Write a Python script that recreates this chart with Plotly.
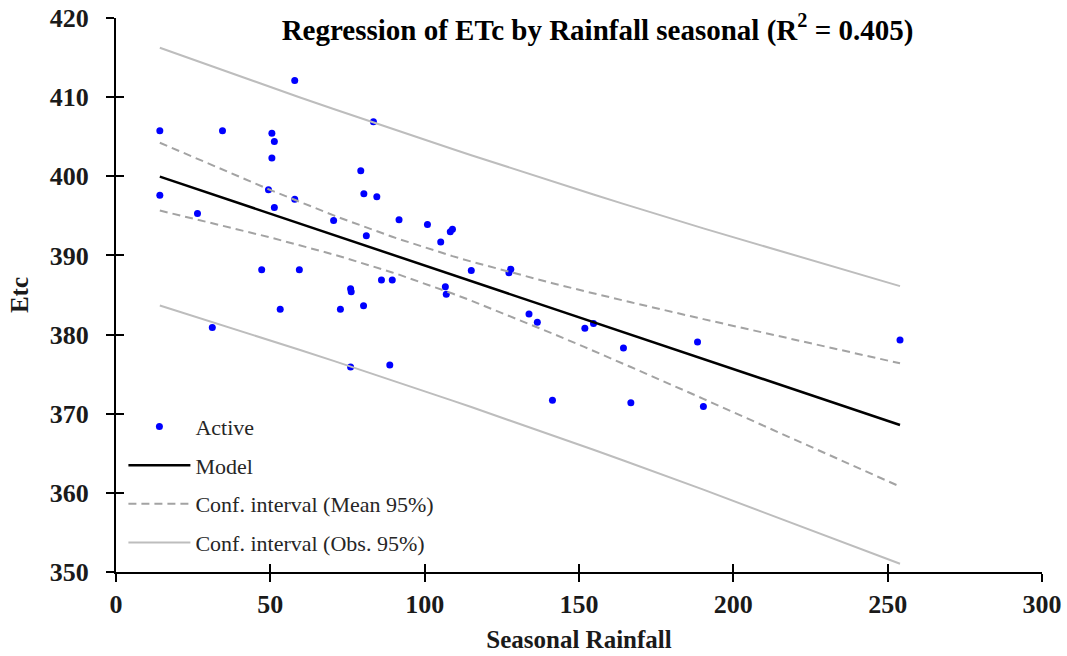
import numpy as np
import plotly.graph_objects as go

# Seasonal rainfall (x) and crop evapotranspiration ETc (y) per observation
rainfall = [14.2, 14.2, 26.4, 31.2, 34.5, 47.2, 49.4, 50.5, 51.3, 50.5,
            51.3, 53.2, 57.9, 57.9, 59.4, 70.5, 72.7, 76.0, 76.2, 76.0,
            79.3, 80.3, 80.2, 81.1, 83.4, 84.5, 86.0, 88.7, 89.5, 91.7,
            100.9, 105.2, 106.7, 107.0, 108.3, 109.0, 115.1, 127.3, 127.9, 133.8,
            136.5, 141.4, 151.9, 154.7, 164.4, 166.8, 188.4, 190.3, 254.0]
etc = [405.75, 397.6, 395.3, 380.9, 405.75, 388.2, 398.3, 405.45, 404.4, 402.3,
       396.05, 383.2, 412.1, 397.1, 388.2, 394.4, 383.2, 385.8, 385.4, 375.9,
       400.7, 397.8, 383.65, 392.5, 406.9, 397.4, 386.9, 376.15, 386.9, 394.5,
       393.9, 391.7, 386.05, 385.1, 393.0, 393.3, 388.1, 387.8, 388.25, 382.6,
       381.55, 371.7, 380.8, 381.4, 378.3, 371.4, 379.05, 370.9, 379.3]

x_ticks = [0, 50, 100, 150, 200, 250, 300]
y_ticks = [350, 360, 370, 380, 390, 400, 410, 420]

# Ordinary least squares fit with 95% intervals
x = np.array(rainfall)
y = np.array(etc)
n = len(x)
slope, intercept = np.polyfit(x, y, 1)
resid = y - (intercept + slope * x)
s = np.sqrt(np.sum(resid ** 2) / (n - 2))
sxx = np.sum((x - x.mean()) ** 2)
T975 = 2.012  # Student t quantile, 47 degrees of freedom

xs = np.unique(x)
fit = intercept + slope * xs
half_mean = T975 * s * np.sqrt(1 / n + (xs - x.mean()) ** 2 / sxx)
half_obs = T975 * s * np.sqrt(1 + 1 / n + (xs - x.mean()) ** 2 / sxx)

SERIF = "Liberation Serif"
MEAN_GREY = "#a3a3a3"
OBS_GREY = "#bdbdbd"
MEAN_DASH = "8px,5px"

fig = go.Figure()

fig.add_trace(go.Scatter(x=x, y=y, mode="markers", name="Active",
                         marker=dict(color="#0000ff", size=7),
                         legendgroup="a"))
fig.add_trace(go.Scatter(x=xs, y=fit, mode="lines", name="Model",
                         line=dict(color="black", width=2.5),
                         legendgroup="b"))
fig.add_trace(go.Scatter(x=xs, y=fit + half_mean, mode="lines",
                         name="Conf. interval (Mean 95%)",
                         line=dict(color=MEAN_GREY, width=2, dash=MEAN_DASH),
                         legendgroup="c"))
fig.add_trace(go.Scatter(x=xs, y=fit - half_mean, mode="lines",
                         line=dict(color=MEAN_GREY, width=2, dash=MEAN_DASH),
                         legendgroup="c", showlegend=False))
fig.add_trace(go.Scatter(x=xs, y=fit + half_obs, mode="lines",
                         name="Conf. interval (Obs. 95%)",
                         line=dict(color=OBS_GREY, width=2),
                         legendgroup="d"))
fig.add_trace(go.Scatter(x=xs, y=fit - half_obs, mode="lines",
                         line=dict(color=OBS_GREY, width=2),
                         legendgroup="d", showlegend=False))
# empty trace that carries the inward tick axes
fig.add_trace(go.Scatter(x=[None], y=[None], xaxis="x2", yaxis="y2",
                         mode="markers", showlegend=False, hoverinfo="skip"))

tickfont = dict(family=SERIF, size=26, color="#1a1a1a", weight="bold")
axis_common = dict(showline=True, linecolor="black", linewidth=2,
                   ticks="outside", ticklen=8, tickwidth=2, tickcolor="black",
                   showgrid=False, zeroline=False, tickfont=tickfont,
                   automargin=False)
inner_ticks = dict(ticks="inside", ticklen=8, tickwidth=2, tickcolor="black",
                   showticklabels=False, showgrid=False, zeroline=False,
                   showline=False, automargin=False)

fig.update_layout(
    width=1067, height=656,
    margin=dict(l=116, r=25, t=18, b=84),
    paper_bgcolor="white", plot_bgcolor="white",
    title=dict(text="Regression of ETc by Rainfall seasonal (R<sup>2</sup> = 0.405)",
               x=0.52, xref="paper", y=0.955, yref="container",
               xanchor="center", yanchor="middle",
               font=dict(family=SERIF, size=29, color="black", weight="bold")),
    xaxis=dict(range=[0, 300], tickvals=x_ticks, **axis_common,
               title=dict(text="Seasonal Rainfall", standoff=12,
                          font=dict(family=SERIF, size=25, color="#1a1a1a", weight="bold"))),
    yaxis=dict(range=[350, 420], tickvals=y_ticks, **axis_common,
               ticklabelstandoff=12,
               title=dict(text="Etc", standoff=14,
                          font=dict(family=SERIF, size=25, color="#1a1a1a", weight="bold"))),
    xaxis2=dict(range=[0, 300], tickvals=x_ticks, overlaying="x", anchor="y2",
                side="bottom", **inner_ticks),
    yaxis2=dict(range=[350, 420], tickvals=y_ticks, overlaying="y", anchor="x2",
                side="left", **inner_ticks),
    legend=dict(x=0.008, y=0.30, xanchor="left", yanchor="top",
                bgcolor="rgba(0,0,0,0)", tracegroupgap=7, itemwidth=62,
                font=dict(family=SERIF, size=22, color="#262626")),
    showlegend=True,
)

fig.write_html("out.html")
